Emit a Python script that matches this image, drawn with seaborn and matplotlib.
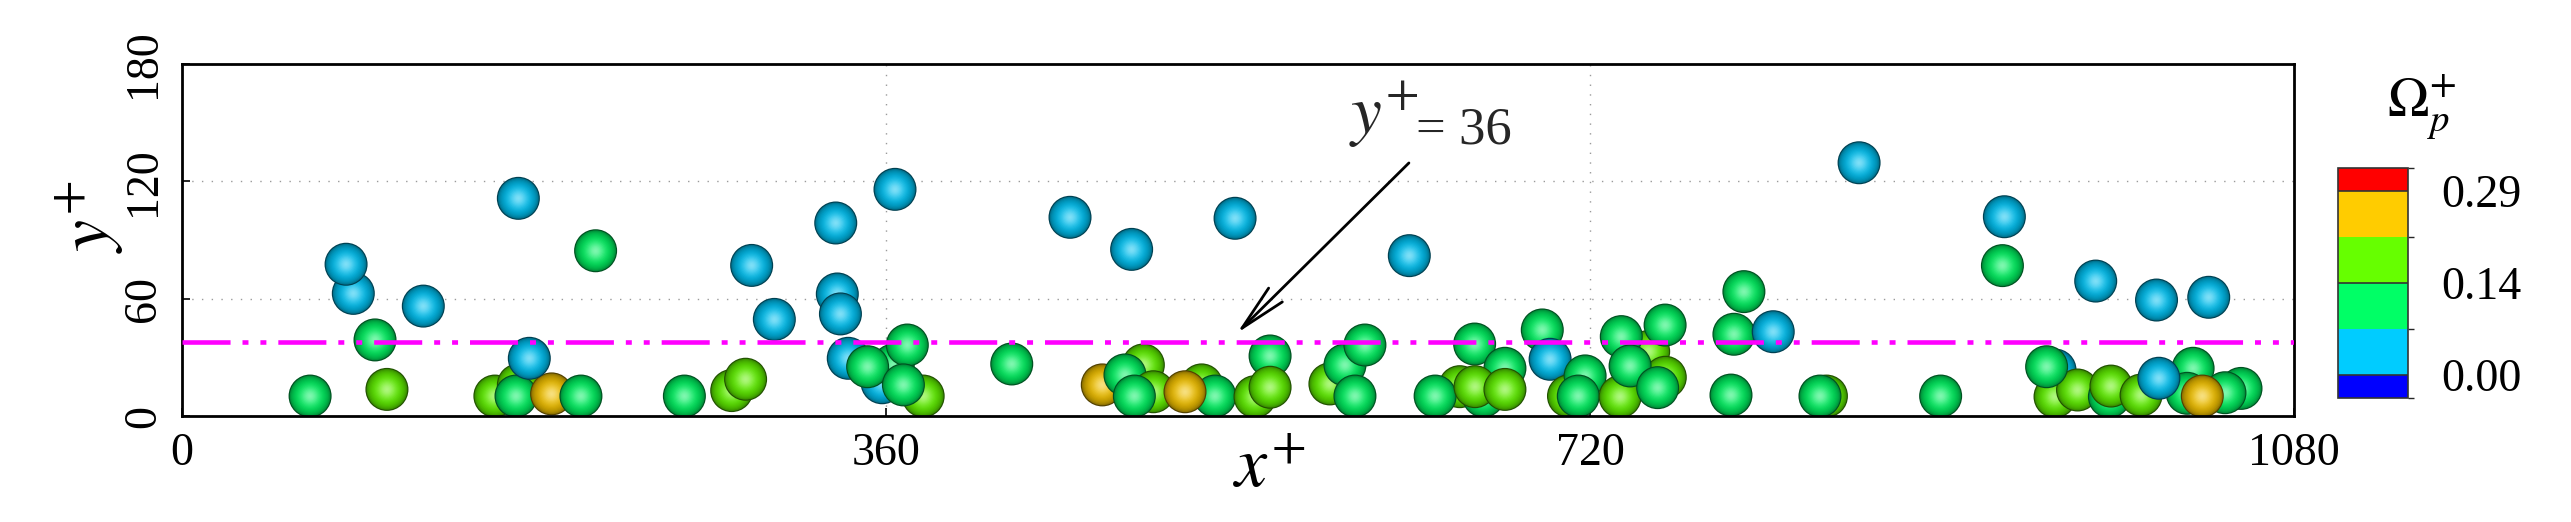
import numpy as np
import pandas as pd
import matplotlib
matplotlib.use("Agg")
import matplotlib.pyplot as plt
import seaborn as sns
from matplotlib.colors import ListedColormap, BoundaryNorm
from matplotlib.cm import ScalarMappable

# ---------------- data (particle centres, wall units) ----------------
x_plus = [65.5, 87.6, 83.9, 98.7, 104.8, 123.4, 172.0, 211.5, 160.0, 172.0,
          170.8, 189.0, 177.6, 204.0, 256.9, 281.1, 288.2, 291.3, 302.9, 334.3,
          335.1, 336.7, 340.7, 358.0, 363.7, 350.6, 370.9, 379.0, 368.9, 364.6,
          424.3, 454.1, 485.6, 538.5, 627.6, 491.6, 470.6, 482.2, 496.7, 487.0,
          521.4, 528.2, 512.9, 556.4, 548.7, 556.4, 587.0, 594.7, 604.9, 599.8,
          653.4, 640.8, 665.5, 661.0, 676.5, 661.2, 676.5, 695.6, 699.6, 709.0,
          717.5, 714.0, 750.0, 736.0, 758.4, 758.5, 735.4, 740.5, 754.6, 798.7,
          793.6, 813.7, 792.1, 840.9, 837.6, 857.6, 899.3, 931.9, 930.9, 978.6,
          1009.7, 1036.4, 957.8, 957.8, 969.3, 953.5, 985.6, 986.4, 1001.8, 1028.4,
          1025.4, 1052.9, 1044.7, 1010.9, 1033.1]
y_plus = [10.2, 62.7, 77.6, 38.9, 13.6, 56.2, 111.3, 84.5, 10.2, 15.9,
          10.2, 11.3, 29.5, 10.2, 10.2, 13.0, 18.8, 77.0, 49.4, 98.7,
          62.4, 52.2, 29.5, 17.0, 26.0, 25.2, 36.3, 10.2, 15.9, 115.9,
          26.6, 101.6, 85.2, 101.1, 82.0, 26.1, 15.9, 21.0, 12.4, 10.2,
          15.9, 10.2, 12.4, 30.7, 9.9, 14.7, 16.4, 26.1, 36.3, 10.2,
          15.0, 10.2, 10.2, 36.8, 24.4, 15.0, 13.6, 44.0, 29.0, 10.2,
          20.5, 10.2, 33.0, 40.6, 46.5, 19.8, 9.9, 25.6, 14.5, 63.6,
          41.8, 43.1, 10.7, 10.2, 10.2, 129.5, 10.2, 101.9, 76.9, 69.0,
          59.3, 60.7, 23.5, 9.9, 13.3, 25.2, 9.9, 15.3, 10.7, 24.4,
          11.6, 14.1, 11.9, 19.3, 10.2]
_c, _g, _l, _o = 0.04, 0.11, 0.18, 0.25
omega_p = [_g, _c, _c, _g, _l, _c, _c, _g, _l, _l,
           _g, _o, _c, _g, _g, _l, _l, _c, _c, _c,
           _c, _c, _c, _c, _g, _g, _g, _l, _g, _c,
           _g, _c, _c, _c, _c, _l, _o, _g, _l, _g,
           _l, _g, _o, _g, _l, _l, _l, _g, _g, _g,
           _l, _g, _g, _g, _g, _l, _l, _g, _c, _l,
           _g, _g, _l, _g, _g, _l, _l, _g, _g, _g,
           _g, _c, _g, _l, _g, _c, _g, _c, _g, _c,
           _c, _c, _c, _l, _l, _g, _g, _l, _l, _g,
           _g, _g, _g, _c, _o]

particle_diameter = 22.0
ref_line_y = 38.0

x_ticks = [0, 360, 720, 1080]
y_ticks = [0, 60, 120, 180]
cbar_levels = [-0.03625, 0.0, 0.0725, 0.145, 0.2175, 0.29, 0.32625]
cbar_colors = ["#0000FF", "#00CCFF", "#00FF66", "#66FF00", "#FFCC00", "#FF0000"]
cbar_ticks = [0.0, 0.145, 0.29]
cbar_ticklabels = ["0.00", "0.14", "0.29"]

# ---------------- style ----------------
sns.set_theme(style="white")
plt.rcParams["font.family"] = ["Liberation Serif", "DejaVu Serif"]
plt.rcParams["mathtext.fontset"] = "stix"
plt.rcParams["lines.scale_dashes"] = False

W, H, DPI = 2571, 522, 100
fig = plt.figure(figsize=(W / DPI, H / DPI), dpi=DPI)
fig.patch.set_facecolor("white")

ax_left, ax_right, ax_top, ax_bot = 182, 2294, 64, 416
ax = fig.add_axes([ax_left / W, 1 - ax_bot / H, (ax_right - ax_left) / W, (ax_bot - ax_top) / H])
ax.set_xlim(0, 1080)
ax.set_ylim(0, 180)
ax.set_facecolor("white")

cmap = ListedColormap(cbar_colors)
norm = BoundaryNorm(cbar_levels, cmap.N)

# ---------------- shaded spheres ----------------
base = cmap(norm(np.array(omega_p)))[:, :3]
px_per_unit = (ax_right - ax_left) / 1080.0
d_pt = particle_diameter * px_per_unit * 72.0 / DPI
radii = np.linspace(1.0, 0.06, 18)
rows = []
for i in range(len(x_plus)):
    for r in radii:
        n = np.sqrt(max(0.0, 1 - r ** 2))
        col = base[i] * (0.32 + 0.62 * n ** 0.8)
        spec = 0.5 * n ** 10
        col = col + (1 - col) * spec
        col = np.clip(col, 0, 1)
        rows.append((x_plus[i], y_plus[i], (d_pt * r) ** 2, col[0], col[1], col[2]))
df = pd.DataFrame(rows, columns=["x", "y", "s", "R", "G", "B"])
sns.scatterplot(data=df, x="x", y="y", s=df["s"].values,
                c=df[["R", "G", "B"]].values, linewidth=0, edgecolor="none",
                legend=False, ax=ax, zorder=2)

# ---------------- reference line and annotation ----------------
ax.axhline(ref_line_y, color="#FF00FF", lw=3.3,
           dashes=(34.6, 8.6, 4.3, 8.6, 4.3, 8.6), zorder=3)
ax.annotate("", xy=(539.5, 42.4), xytext=(627.4, 129.4),
            arrowprops=dict(arrowstyle="->,head_length=1.7,head_width=0.35",
                            lw=2.0, color="black", mutation_scale=20,
                            shrinkA=0, shrinkB=0), zorder=5)
ax.text(596.8, 144.2, r"$y^{+}$", fontsize=50, ha="left", va="baseline", zorder=5)
ax.text(631.0, 139.6, "= 36", fontsize=38, ha="left", va="baseline", zorder=5)

# ---------------- axes cosmetics ----------------
ax.set_xticks(x_ticks)
ax.set_yticks(y_ticks)
ax.set_xticklabels([str(v) for v in x_ticks])
ax.set_yticklabels([str(v) for v in y_ticks], rotation=90, va="center")
ax.tick_params(direction="in", length=6, width=1.2, pad=12, labelsize=33,
               color="black", labelcolor="black", left=True, bottom=True)
ax.grid(True, color="#9a9a9a", linestyle=(0, (1.0, 6.0)), linewidth=1.0)
ax.set_axisbelow(True)
for s in ax.spines.values():
    s.set_color("black")
    s.set_linewidth(2.0)
    s.set_visible(True)

ax.set_xlabel(r"$x^{+}$", fontsize=52, color="black")
ax.xaxis.set_label_coords(0.515, -0.06)
ax.set_ylabel(r"$y^{+}$", fontsize=52, color="black", rotation=90)
ax.yaxis.set_label_coords(-0.0436, 0.565)
ax.yaxis.label.set_verticalalignment("center")

# ---------------- colour bar ----------------
cax = fig.add_axes([2338 / W, 1 - 398 / H, 70 / W, 230 / H])
sm = ScalarMappable(norm=norm, cmap=cmap)
cb = fig.colorbar(sm, cax=cax, ticks=cbar_ticks, spacing="proportional")
cb.set_ticklabels(cbar_ticklabels)
cb.outline.set_edgecolor("#333333")
cb.outline.set_linewidth(1.2)
cax.tick_params(length=0, pad=24, labelsize=33, labelcolor="black")
for v in cbar_ticks:
    cax.axhline(v, color="#333333", lw=1.2)
fig.text(2421 / W, 1 - 117 / H, r"$\Omega_p^{+}$", fontsize=40,
         ha="center", va="baseline", color="black")

fig.savefig("out.png", dpi=DPI, facecolor="white")
